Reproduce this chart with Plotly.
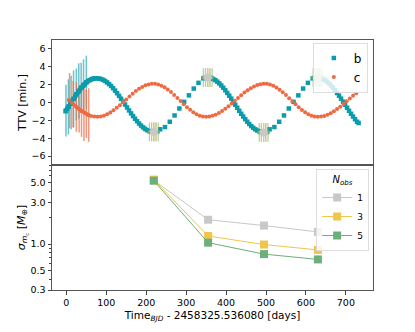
import plotly.graph_objects as go
from plotly.subplots import make_subplots

# ---------------- data ----------------
# planet b model TTVs (days, minutes)
b_days = [-2, 2, 6, 10, 14, 18, 22, 26, 30, 34, 38, 42, 46, 50, 54, 58, 62, 66, 70, 74,
          77, 82, 87, 92, 97, 102, 107, 112, 117, 122, 127, 132, 137, 142, 147, 152, 157, 162,
          167, 172, 177, 182, 187, 192, 197, 202, 207, 212, 217,
          235, 247, 259, 271, 283, 295, 307, 319, 331, 343,
          353, 358, 363, 368, 373, 378, 383, 388, 393, 398, 403, 408, 413, 418, 423, 428, 433,
          438, 443, 448, 453, 458, 463, 468, 473, 478, 483, 488, 493,
          509, 521, 533, 545, 557, 569, 581, 593, 605, 617,
          628, 633, 638, 643, 648, 653, 658, 663, 668, 673, 678, 683, 688, 693, 698, 703, 708,
          713, 718, 723, 728, 732]
b_ttv = [-0.98, -0.70, -0.43, -0.14, 0.13, 0.41, 0.68, 0.94, 1.20, 1.43, 1.66, 1.87, 2.06, 2.24,
         2.39, 2.49, 2.58, 2.66, 2.70, 2.72,
         2.70, 2.68, 2.63, 2.54, 2.41, 2.25, 2.06, 1.85, 1.60, 1.33, 1.04, 0.74, 0.42, 0.10,
         -0.23, -0.56, -0.89, -1.22, -1.52, -1.82, -2.09, -2.35, -2.58, -2.78, -2.95, -3.09,
         -3.20, -3.26, -3.30,
         -3.0, -2.75, -2.16, -1.45, -0.67, 0.07, 0.80, 1.56, 2.2, 2.7,
         2.80, 2.78, 2.72, 2.63, 2.50, 2.33, 2.14, 1.91, 1.65, 1.37, 1.07, 0.76, 0.43, 0.09,
         -0.25, -0.59, -0.93, -1.26, -1.57, -1.87, -2.15, -2.41, -2.64, -2.83, -3.00, -3.13,
         -3.22, -3.28, -3.30,
         -3.0, -2.75, -2.16, -1.45, -0.67, 0.07, 0.80, 1.56, 2.2, 2.7,
         2.80, 2.78, 2.72, 2.63, 2.50, 2.33, 2.14, 1.91, 1.65, 1.37, 1.07, 0.76, 0.43, 0.09,
         -0.25, -0.59, -0.93, -1.26, -1.57, -1.87, -2.15, -2.30]

# planet c model TTVs
c_days = [6, 14, 22, 30, 38, 46, 54, 62, 70, 78, 86, 94, 102, 110, 118, 126, 134, 142, 150,
          158, 166, 174, 182, 190, 198, 206, 214, 222, 230, 238, 246, 254, 262, 270, 278, 286,
          294, 302, 310, 318, 326, 334, 342, 350, 358, 366, 374, 382, 390, 398, 406, 414, 422,
          430, 438, 446, 454, 462, 470, 478, 486, 494, 502, 510, 518, 526, 534, 542, 550, 558,
          566, 574, 582, 590, 598, 606, 614, 622, 630, 638, 646, 654, 662, 670, 678, 686, 694,
          702, 710, 718, 726]
c_ttv = [0.29, -0.04, -0.36, -0.66, -0.94, -1.17, -1.36, -1.50, -1.58, -1.60, -1.56, -1.47,
         -1.32, -1.12, -0.88, -0.60, -0.30, 0.02, 0.35, 0.68, 0.99, 1.28, 1.54, 1.75, 1.92,
         2.03, 2.09, 2.09, 2.03, 1.89, 1.70, 1.46, 1.18, 0.85, 0.51, 0.16, -0.19, -0.52, -0.82,
         -1.09, -1.31, -1.47, -1.57, -1.60, -1.57, -1.49, -1.36, -1.18, -0.96, -0.71, -0.43,
         -0.12, 0.19, 0.51, 0.81, 1.11, 1.37, 1.61, 1.80, 1.95, 2.05, 2.10, 2.09, 2.01, 1.88,
         1.68, 1.44, 1.15, 0.83, 0.49, 0.14, -0.20, -0.53, -0.83, -1.10, -1.31, -1.47, -1.57,
         -1.60, -1.57, -1.50, -1.37, -1.20, -0.99, -0.74, -0.47, -0.17, 0.13, 0.44, 0.75, 1.04]

# observed transits (early), with uncertainties
b_obs_days = [-1, 5, 12, 18, 25, 31, 37, 43, 50]
b_obs_ttv = [-0.9, -0.5, 0.0, 0.4, 0.9, 1.3, 1.65, 1.95, 2.25]
b_obs_err = [2.9, 3.1, 3.0, 3.2, 2.9, 3.1, 2.8, 2.9, 3.0]
c_obs_days = [8, 17, 25, 32, 38, 44, 50, 56]
c_obs_ttv = [0.2, -0.2, -0.5, -0.75, -0.95, -1.1, -1.27, -1.4]
c_obs_err = [3.1, 2.6, 2.8, 2.6, 2.9, 3.2, 2.7, 3.0]

# proposed future observations of b
fut_days = [219, 354, 494, 629]
fut_ttv = [-3.3, 2.8, -3.35, 2.8]
fut_err = 1.05
b_period = 5.5
epochs_n5 = [-2, -1, 0, 1, 2]
epochs_n3 = [-1, 0, 1]
epochs_n1 = [0]

# mass uncertainty of c vs time
sig_days = [219, 355, 495, 630]
sig_n1 = [5.35, 1.9, 1.63, 1.38]
sig_n3 = [5.45, 1.24, 0.99, 0.86]
sig_n5 = [5.3, 1.04, 0.77, 0.67]

y_ticks_top = [-6, -4, -2, 0, 2, 4, 6]
y_ticks_bot = [0.3, 0.5, 1.0, 3.0, 5.0]
y_minor_bot = [0.4, 0.6, 0.7, 0.8, 0.9, 2, 4, 6, 7, 8]
x_ticks = [0, 100, 200, 300, 400, 500, 600, 700]

TEAL = "#0b9cab"
ORANGE = "#ef6a43"
GRAY = "#c8c8c8"
YELLOW = "#f0c54b"
GREEN = "#6daf7a"
FONT = "DejaVu Sans"

fig = make_subplots(rows=2, cols=1, shared_xaxes=True, vertical_spacing=0)

# early observations with error bars
fig.add_trace(go.Scatter(x=b_obs_days, y=b_obs_ttv, mode="markers", showlegend=False,
                         marker=dict(symbol="square", size=4.5, color=TEAL),
                         error_y=dict(type="data", array=b_obs_err, color="rgba(11,156,171,0.6)",
                                      thickness=1.5, width=0)), row=1, col=1)
fig.add_trace(go.Scatter(x=c_obs_days, y=c_obs_ttv, mode="markers", showlegend=False,
                         marker=dict(symbol="circle", size=4, color=ORANGE),
                         error_y=dict(type="data", array=c_obs_err, color="rgba(239,106,67,0.7)",
                                      thickness=1.5, width=0)), row=1, col=1)
# models
fig.add_trace(go.Scatter(x=b_days, y=b_ttv, mode="markers", name="b", legend="legend",
                         marker=dict(symbol="square", size=4.5, color=TEAL)), row=1, col=1)
fig.add_trace(go.Scatter(x=c_days, y=c_ttv, mode="markers", name="c", legend="legend",
                         marker=dict(symbol="circle", size=4, color=ORANGE)), row=1, col=1)

# future observations
for epochs, col, ecol, msize in [(epochs_n5, GREEN, "rgba(109,175,122,0.6)", 4),
                                 (epochs_n3, YELLOW, "rgba(240,197,75,0.7)", 4),
                                 (epochs_n1, GRAY, "rgba(200,200,200,0.8)", 8)]:
    xs, ys = [], []
    for d, v in zip(fut_days, fut_ttv):
        for e in epochs:
            xs.append(d + e * b_period)
            ys.append(v)
    fig.add_trace(go.Scatter(x=xs, y=ys, mode="markers", showlegend=False,
                             marker=dict(symbol="circle", size=msize, color=col),
                             error_y=dict(type="constant", value=fut_err, color=ecol,
                                          thickness=1.2, width=0)), row=1, col=1)

# bottom panel
for name, vals, col in [("1", sig_n1, GRAY), ("3", sig_n3, YELLOW), ("5", sig_n5, GREEN)]:
    fig.add_trace(go.Scatter(x=sig_days, y=vals, mode="lines+markers", name=name,
                             legend="legend2",
                             line=dict(color=col, width=1),
                             marker=dict(symbol="square", size=8, color=col)), row=2, col=1)

axis_common = dict(showline=True, linecolor="#555", linewidth=1, mirror=True,
                   ticks="outside", ticklen=3.5, tickcolor="#444", tickwidth=1,
                   showgrid=False, zeroline=False, automargin=False,
                   tickfont=dict(family=FONT, size=9.5, color="black"))

fig.update_xaxes(range=[-36, 768], **axis_common)
fig.update_xaxes(row=1, col=1, showticklabels=False, ticks="")
fig.update_xaxes(row=2, col=1, tickvals=x_ticks,
                 title=dict(text="Time<sub><i>BJD</i></sub> - 2458325.536080 [days]",
                            font=dict(family=FONT, size=10.5, color="black"), standoff=4))
fig.update_yaxes(row=1, col=1, range=[-7, 7], tickvals=y_ticks_top,
                 ticktext=[str(v).replace("-", "\u2212") for v in y_ticks_top],
                 title=dict(text="TTV [min.]", font=dict(family=FONT, size=11, color="black"),
                            standoff=2), **axis_common)
fig.update_yaxes(row=2, col=1, type="log", range=[-0.5229, 0.9031], tickvals=y_ticks_bot,
                 ticktext=[f"{v:.1f}" for v in y_ticks_bot],
                 minor=dict(tickmode="array", tickvals=y_minor_bot, ticks="outside",
                            ticklen=2, tickcolor="#444"),
                 title=dict(text="<i>σ</i><sub><i>m</i><sub>c</sub></sub> [<i>M</i><sub>⊕</sub>]",
                            font=dict(family=FONT, size=11, color="black"), standoff=2),
                 **axis_common)

# the page body adds an 8px offset, so the figure is 8px smaller and margins compensate
fig.update_layout(
    width=407, height=324,
    margin=dict(l=44, r=42, t=32, b=42),
    paper_bgcolor="white", plot_bgcolor="white",
    font=dict(family=FONT, color="black"),
    legend=dict(x=0.984, y=0.99, xanchor="right", yanchor="top",
                bgcolor="rgba(255,255,255,0.8)", bordercolor="#dddddd", borderwidth=1,
                font=dict(family=FONT, size=12), itemwidth=30, tracegroupgap=0),
    legend2=dict(x=0.988, y=0.484, xanchor="right", yanchor="top",
                 bgcolor="rgba(255,255,255,0.8)", bordercolor="#dddddd", borderwidth=1,
                 font=dict(family=FONT, size=9), itemwidth=30,
                 title=dict(text="<i>N</i><sub><i>obs</i></sub>", side="top center",
                            font=dict(family=FONT, size=10))),
)

fig.write_html("out.html")
